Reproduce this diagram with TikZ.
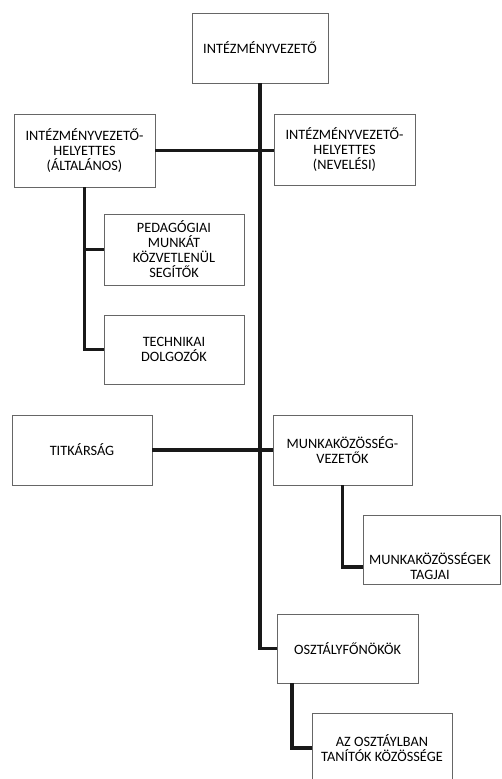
\documentclass[tikz,border=0pt]{standalone}
\usepackage{fontspec}
\setmainfont{Carlito}
\begin{document}
\begin{tikzpicture}[x=1pt,y=-1pt,
  box/.style={draw=black!60, line width=0.8pt, rectangle, align=center, inner sep=0pt,
    font=\fontsize{14.3}{15}\selectfont, text=black},
  txt/.style={align=center, inner sep=0pt, font=\fontsize{14.3}{15}\selectfont, text=black},
  conn/.style={line width=3.7pt, black!90}]
\useasboundingbox (0,0) rectangle (501,779);
\clip (0,0) rectangle (501,779);
\node[box, minimum width=136pt, minimum height=70pt] (vez) at (260,48) {INTÉZMÉNYVEZETŐ};
\node[box, minimum width=141pt, minimum height=73pt] (alt) at (84.5,150.5) {INTÉZMÉNYVEZETŐ-\\HELYETTES\\(ÁLTALÁNOS)};
\node[box, minimum width=141pt, minimum height=71pt] (nev) at (344.5,149.5) {INTÉZMÉNYVEZETŐ-\\HELYETTES\\(NEVELÉSI)};
\node[box, minimum width=140pt, minimum height=71pt] (ped) at (174,249.5) {PEDAGÓGIAI\\MUNKÁT\\KÖZVETLENÜL\\SEGÍTŐK};
\node[box, minimum width=140pt, minimum height=69pt] (tech) at (174,349.5) {TECHNIKAI\\DOLGOZÓK};
\node[box, minimum width=140pt, minimum height=70pt] (titk) at (82,450) {TITKÁRSÁG};
\node[box, minimum width=139pt, minimum height=70pt] (munka) at (342.5,450) {MUNKAKÖZÖSSÉG-\\VEZETŐK};
\node[box, minimum width=137pt, minimum height=69pt] (tagjai) at (431.5,549.5) {};
\node[txt] (tagjaitxt) at (430,566) {MUNKAKÖZÖSSÉGEK\\TAGJAI};
\node[box, minimum width=141pt, minimum height=69pt] (oszt) at (347.5,648.5) {OSZTÁLYFŐNÖKÖK};
\node[box, minimum width=140pt, minimum height=70pt] (az) at (382,748) {AZ OSZTÁYLBAN\\TANÍTÓK KÖZÖSSÉGE};
\coordinate (tagjaiIn) at (363,567);
\coordinate (osztBot) at (292,683);
\coordinate (azIn) at (312,748);
\draw[conn] (vez.south) |- (oszt.west);
\draw[conn] (alt.east) -- (alt.east -| nev.west);
\draw[conn] (alt.south) |- (ped.west);
\draw[conn] (alt.south) |- (tech.west);
\draw[conn] (titk.east) -- (munka.west);
\draw[conn] (munka.south) |- (tagjaiIn);
\draw[conn] (osztBot) |- (azIn);
\end{tikzpicture}
\end{document}
